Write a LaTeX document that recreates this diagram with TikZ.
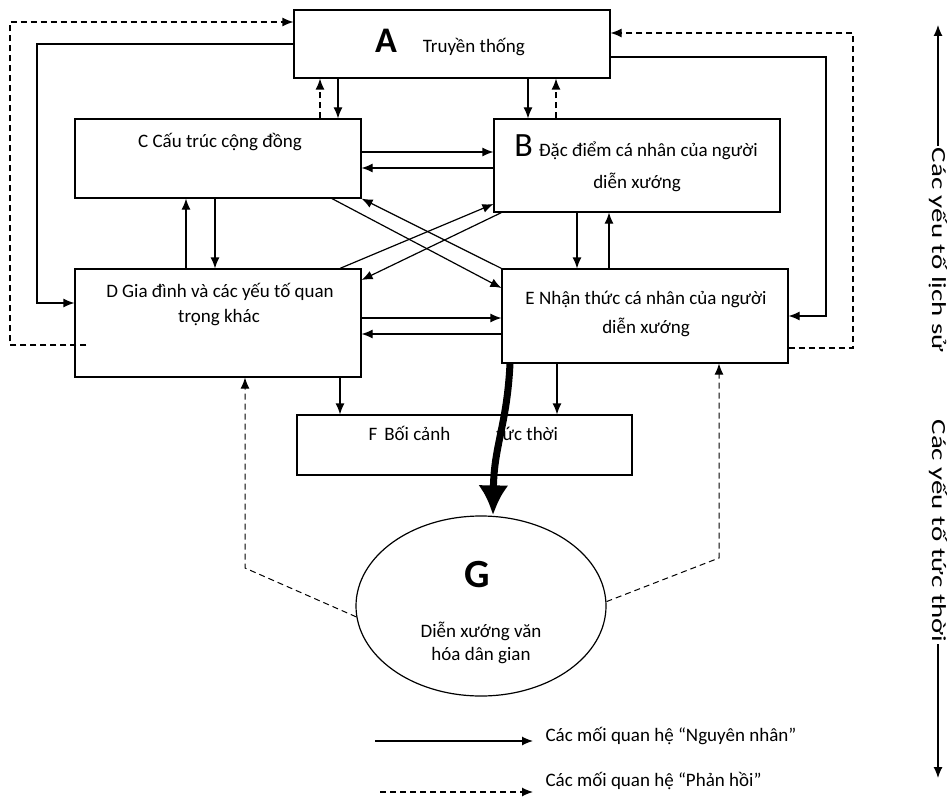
\documentclass[tikz,border=0pt]{standalone}
\usepackage{fontspec}
\setmainfont{Carlito}
\usetikzlibrary{positioning, arrows.meta, shapes.geometric}

\begin{document}
\begin{tikzpicture}[x=1pt, y=-1pt, >={Latex[length=11pt,width=9pt]}, line width=1.2pt,
    font=\fontsize{19}{23}\selectfont,
    box/.style={draw, rectangle, inner sep=0pt},
    txt/.style={inner sep=0pt, anchor=base},
    side/.style={rotate=-90, inner sep=1pt, font=\fontsize{20}{20}\selectfont},
    cause/.style={->},
    fb/.style={->, dash pattern=on 6pt off 4pt}]
    \useasboundingbox (0,0) rectangle (950,797);

    % boxes
    \node[box, minimum width=316pt, minimum height=68pt] (A) at (452,44) {};
    \node[box, minimum width=286pt, minimum height=79pt] (C) at (218,158.5) {};
    \node[box, minimum width=286pt, minimum height=93pt] (B) at (637,165.5) {};
    \node[box, minimum width=286pt, minimum height=108pt] (D) at (218,323) {};
    \node[box, minimum width=286pt, minimum height=94pt] (E) at (645,316) {};
    \node[box, minimum width=335pt, minimum height=60pt] (F) at (464.5,445) {};
    \node[ellipse, draw, minimum width=250pt, minimum height=180pt, inner sep=0pt] (G) at (481,606) {};

    % texts
    \node[txt] (Atxt) at (450,53) {{\fontsize{36}{36}\bfseries\selectfont A}\hspace{26pt}Truyền thống};
    \node[txt] (Ctxt) at (220,147) {C Cấu trúc cộng đồng};
    \node[txt] (Btxt) at (636,157) {{\fontsize{34}{34}\selectfont B}\hspace{6pt}Đặc điểm cá nhân của người};
    \node[txt] (Btxt2) at (637,188) {diễn xướng};
    \node[txt] (Dtxt) at (220,297) {D Gia đình và các yếu tố quan};
    \node[txt] (Dtxt2) at (219,322) {trọng khác};
    \node[txt] (Etxt) at (646,304) {E Nhận thức cá nhân của người};
    \node[txt] (Etxt2) at (646,333) {diễn xướng};
    \node[txt, anchor=base west] (Ftxt) at (368,440) {F\hspace{7pt}Bối cảnh\hspace{46pt}tức thời};
    \node[txt] (Gtxt) at (477,587) {\fontsize{40}{40}\bfseries\selectfont G};
    \node[txt] (Gtxt2) at (481,637) {Diễn xướng văn};
    \node[txt] (Gtxt3) at (481,660) {hóa dân gian};

    % A, C, B
    \draw[cause] (A.south -| 338,0) -- (C.north -| 338,0);
    \draw[fb] (C.north -| 320,0) -- (A.south -| 320,0);
    \draw[cause] (A.south -| 528,0) -- (B.north -| 528,0);
    \draw[fb] (B.north -| 556,0) -- (A.south -| 556,0);
    \draw[cause] (C.east |- 0,152) -- (B.west |- 0,152);
    \draw[cause] (B.west |- 0,168) -- (C.east |- 0,168);

    % C, D and B, E
    \draw[cause] (D.north -| 186,0) -- (C.south -| 186,0);
    \draw[cause] (C.south -| 215,0) -- (D.north -| 215,0);
    \draw[cause] (B.south -| 577,0) -- (E.north -| 577,0);
    \draw[cause] (E.north -| 609,0) -- (B.south -| 609,0);
    \draw[cause] (D.east |- 0,318) -- (E.west |- 0,318);
    \draw[cause] (E.west |- 0,334) -- (D.east |- 0,334);

    % crossing
    \draw[cause] (C.south -| 332,0) -- (E.west |- 0,288);
    \draw[cause] (E.north west) -- (C.south east);
    \draw[cause] (D.north -| 340,0) -- (B.west |- 0,204);
    \draw[cause] ([xshift=8pt]B.south west) -- (D.east |- 0,280);

    % loops round the outside
    \draw[cause] (A.west) -| (37,303) -- (D.west |- 0,303);
    \draw[fb] ([shift={(12pt,-22pt)}]D.west) -| (10,22) -- (A.west |- 0,22);
    \draw[cause] (A.east |- 0,57) -| (826,316) -- (E.east);
    \draw[fb] (E.east |- 0,348) -| (853,33) -- (A.east |- 0,33);

    % to F and G
    \draw[cause] (D.south -| 340,0) -- (F.north -| 340,0);
    \draw[cause] (E.south -| 557,0) -- (F.north -| 557,0);
    \draw[-{Latex[length=30pt,width=30pt]}, line width=7pt] (E.south -| 510,0) .. controls (507,425) and (494,445) .. (G.north -| 493,0);
    \coordinate (gd) at (245,568);
    \coordinate (ge) at (719,558);
    \draw[fb, line width=1pt] (G.185) -- (gd) -- (gd |- D.south);
    \draw[fb, line width=1pt] (G.2) -- (ge) -- (ge |- E.south);

    % legend
    \node[txt, anchor=base west] (lcause) at (545,741) {Các mối quan hệ “Nguyên nhân”};
    \node[txt, anchor=base west] (lfb) at (545,786) {Các mối quan hệ “Phản hồi”};
    \coordinate (lc) at (375,741);
    \coordinate (lf) at (380,792);
    \draw[cause] (lc) -- (lc -| 533,0);
    \draw[fb] (lf) -- (lf -| 533,0);

    % time axis
    \node[side] (hist) at (938,250) {\scalebox{1.45}[1]{Các yếu tố lịch sử}};
    \node[side] (imm) at (938,531) {\scalebox{1.45}[1]{Các yếu tố tức thời}};
    \draw[cause] (hist.west) -- (hist.west |- 0,25);
    \draw[cause] (imm.east) -- (imm.east |- 0,778);
\end{tikzpicture}
\end{document}
